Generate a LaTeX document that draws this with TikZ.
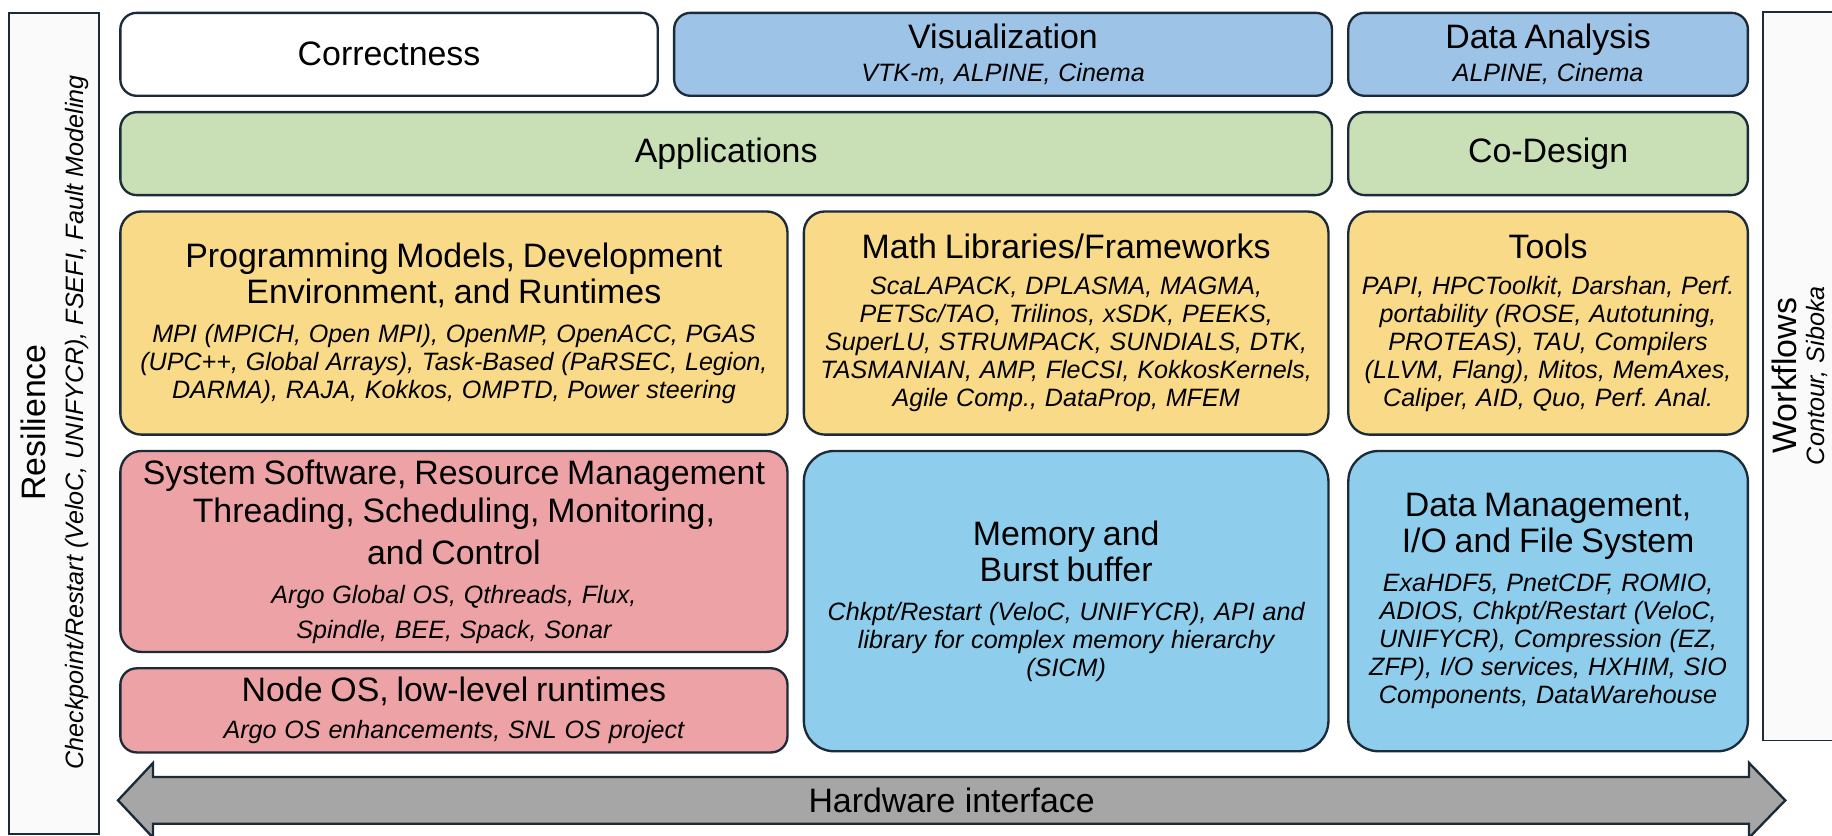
\documentclass[tikz,border=0pt]{standalone}
\usepackage{fontspec}
\setmainfont{Liberation Sans}
\usetikzlibrary{positioning}

\definecolor{frame}{HTML}{1C2B39}
\definecolor{vizblue}{HTML}{9DC3E6}
\definecolor{appgreen}{HTML}{C9DFB5}
\definecolor{libyellow}{HTML}{F9DA88}
\definecolor{syspink}{HTML}{EDA3A6}
\definecolor{datablue}{HTML}{8ECDEB}
\definecolor{hwgrey}{HTML}{A6A6A6}
\definecolor{sidefill}{HTML}{FAFAFA}

\frenchspacing
\newcommand{\headfont}{\fontsize{14.5}{15.5}\selectfont}
\newcommand{\itemfont}{\fontsize{10.75}{12}\selectfont\itshape}
\newcommand{\boxhead}[1]{{\headfont #1\par}}
\newcommand{\boxlist}[2][4.5pt]{\vspace{#1}{\itemfont #2\par}}

\begin{document}
\begin{tikzpicture}[x=0.5pt, y=-0.5pt,
     node distance = 6pt and 6pt,
        box/.style = {rectangle, draw=frame, line width=1pt, inner xsep=0pt, inner ysep=2pt, align=center},
         wd/.style = {minimum width=#1, text width=#1},
     rowbox/.style = {box, minimum height=35.5pt, rounded corners=7pt},
     midbox/.style = {box, minimum height=95.5pt, rounded corners=9pt, fill=libyellow},
   whitebox/.style = {rowbox, fill=white},
     vizbox/.style = {rowbox, fill=vizblue},
     appbox/.style = {rowbox, fill=appgreen},
     sysbox/.style = {box, fill=syspink},
    databox/.style = {box, minimum height=128.5pt, rounded corners=13pt, fill=datablue},
    sidebox/.style = {rectangle, fill=sidefill},
   sideline/.style = {draw=frame, line width=0.8pt},
   sidetext/.style = {rotate=90, inner sep=0pt},
    hwarrow/.style = {draw=frame, line width=1pt, fill=hwgrey}
                        ]
\path[use as bounding box, clip] (0,0) rectangle (1568,715);

% side bars
\node (res) [sidebox, sideline, minimum width=38.5pt, minimum height=351.5pt, anchor=north west] at (7,10) {};
\node (wf)  [sidebox, minimum width=60pt, minimum height=311.5pt, anchor=north west] at (1509,10) {};
\draw[sideline] (wf.north east) -- (wf.north west) -- (wf.south west) -- (wf.south east);
\node (restitle) [sidetext, font=\headfont] at (28.5,361.5) {Resilience};
\node (ressub)   [sidetext, font=\itemfont] at (66,361.5) {Checkpoint/Restart (VeloC, UNIFYCR), FSEFI, Fault Modeling};
\node (wftitle)  [sidetext, font=\headfont] at (1527,321.5) {Workflows};
\node (wfsub)    [sidetext, font=\itemfont] at (1555,321.5) {Contour, Siboka};

% top rows
\node (corr)  [whitebox, wd=230pt, anchor=north west] at (102,10) {\boxhead{Correctness}};
\node (vis)   [vizbox, wd=281.5pt, right=of corr] {\boxhead{Visualization}\boxlist[2pt]{VTK-m, ALPINE, Cinema}};
\node (ana)   [vizbox, wd=171pt, right=of vis] {\boxhead{Data Analysis}\boxlist[2pt]{ALPINE, Cinema}};
\node (app)   [appbox, wd=518.5pt, below=of corr.south west, anchor=north west] {\boxhead{Applications}};
\node (codes) [appbox, wd=171pt, below=of ana] {\boxhead{Co-Design}};

% middle row
\node (prog)  [midbox, wd=285.5pt, below=of app.south west, anchor=north west]
  {\boxhead{Programming Models, Development\\Environment, and Runtimes}%
   \boxlist{MPI (MPICH, Open MPI), OpenMP, OpenACC, PGAS\\(UPC++, Global Arrays), Task-Based (PaRSEC, Legion,\\DARMA), RAJA, Kokkos, OMPTD, Power steering}};
\node (math)  [midbox, wd=224.5pt, right=of prog.north east, anchor=north west]
  {\boxhead{Math Libraries/Frameworks}%
   \boxlist[3.5pt]{ScaLAPACK, DPLASMA, MAGMA,\\PETSc/TAO, Trilinos, xSDK, PEEKS,\\SuperLU, STRUMPACK, SUNDIALS, DTK,\\TASMANIAN, AMP, FleCSI, KokkosKernels,\\Agile Comp., DataProp, MFEM}};
\node (tools) [midbox, wd=171pt, below=of codes]
  {\boxhead{Tools}%
   \boxlist[3.5pt]{PAPI, HPCToolkit, Darshan, Perf.\\portability (ROSE, Autotuning,\\PROTEAS), TAU, Compilers\\(LLVM, Flang), Mitos, MemAxes,\\Caliper, AID, Quo, Perf. Anal.}};

% bottom row
\node (sys)   [sysbox, wd=285.5pt, minimum height=86pt, rounded corners=9pt, below=of prog]
  {\boxhead{System Software, Resource Management\\[1pt]Threading, Scheduling, Monitoring,\\[2.5pt]and Control}%
   \boxlist{Argo Global OS, Qthreads, Flux,\\[3pt]Spindle, BEE, Spack, Sonar}};
\node (nos)   [sysbox, wd=285.5pt, minimum height=36pt, rounded corners=7pt, below=of sys]
  {\boxhead{Node OS, low-level runtimes}\boxlist[4pt]{Argo OS enhancements, SNL OS project}};
\node (mem)   [databox, wd=224.5pt, below=of math.south west, anchor=north west]
  {\boxhead{Memory and\\Burst buffer}%
   \boxlist{Chkpt/Restart (VeloC, UNIFYCR), API and\\library for complex memory hierarchy\\(SICM)}};
\node (dm)    [databox, wd=171pt, below=of tools]
  {\boxhead{Data Management,\\I/O and File System}%
   \boxlist{ExaHDF5, PnetCDF, ROMIO,\\ADIOS, Chkpt/Restart (VeloC,\\UNIFYCR), Compression (EZ,\\ZFP), I/O services, HXHIM, SIO\\Components, DataWarehouse}};

% hardware arrow
\draw[hwarrow] (101,685) -- (131,653) -- (131,665) -- (1497,665) -- (1497,653) -- (1528,685)
  -- (1497,717) -- (1497,705) -- (131,705) -- (131,717) -- cycle;
\node (hw) [font=\headfont] at (814.5,685) {Hardware interface};
\end{tikzpicture}
\end{document}
